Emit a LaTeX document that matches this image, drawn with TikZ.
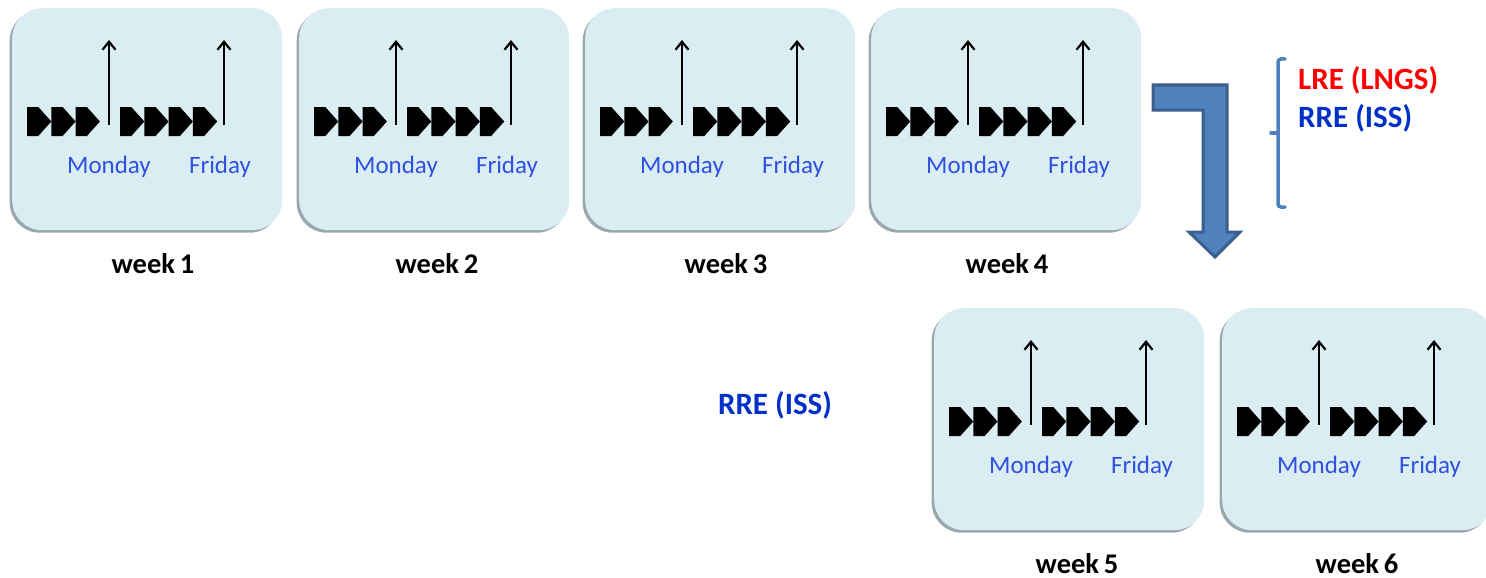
\documentclass[tikz,border=0pt]{standalone}
\usepackage{fontspec}
\setmainfont{Carlito}
\usetikzlibrary{arrows.meta,shadows}
\definecolor{boxfill}{HTML}{DAEDF3}
\definecolor{boxshadow}{HTML}{8E9FA6}
\definecolor{daytext}{HTML}{3050E0}
\definecolor{bigarrow}{HTML}{4F81BD}
\definecolor{bigarrowedge}{HTML}{3A5F8E}
\definecolor{lrered}{HTML}{FF0000}
\definecolor{rreblue}{HTML}{0030C8}
\begin{document}
\begin{tikzpicture}[x=1pt,y=-1pt,
  weekbox/.style={rounded corners=30pt, fill=boxfill, minimum width=270pt, minimum height=222pt,
    inner sep=0pt, anchor=north west,
    drop shadow={shadow xshift=-2.5pt, shadow yshift=-2.5pt, fill=boxshadow, opacity=0.9}},
  chev/.style={fill=black},
  dayarrow/.style={line width=2.2pt, -{Straight Barb[length=8pt,width=13pt,line width=2.2pt]}},
  daylabel/.style={text=daytext, font=\fontsize{25}{30}\selectfont, anchor=base, inner sep=0pt},
  weeklabel/.style={font=\bfseries\fontsize{28.5}{32}\selectfont, anchor=base, inner sep=0pt},
  eventlabel/.style={font=\bfseries\fontsize{31}{36}\selectfont, inner sep=0pt}]
\useasboundingbox (0,0) rectangle (1486,578);
\foreach \i/\X/\Y/\W in {1/12/8/153, 2/299/8/437, 3/585/8/726, 4/871/8/1007, 5/934/308/1077, 6/1222/308/1357}{
  \node[weekbox] (b\i) at (\X,\Y) {};
  \foreach \k in {0,1,2}
    \fill[chev] ({\X+15+24.3*\k},{\Y+99}) -- ++(11.3,0) -- ++(13,14.5) -- ++(-13,14.5) -- ++(-11.3,0) -- cycle;
  \foreach \k in {0,1,2,3}
    \fill[chev] ({\X+108+24.3*\k},{\Y+99}) -- ++(11.3,0) -- ++(13,14.5) -- ++(-13,14.5) -- ++(-11.3,0) -- cycle;
  \coordinate (m\i a) at ({\X+97},{\Y+117});
  \coordinate (m\i b) at ({\X+97},{\Y+32});
  \coordinate (f\i a) at ({\X+212},{\Y+117});
  \coordinate (f\i b) at ({\X+212},{\Y+32});
  \draw[dayarrow] (m\i a) -- (m\i b);
  \draw[dayarrow] (f\i a) -- (f\i b);
  \node[daylabel] (mon\i) at ({\X+97},{\Y+165}) {Monday};
  \node[daylabel] (fri\i) at ({\X+208},{\Y+165}) {Friday};
  \node[weeklabel] (w\i) at (\W,{\Y+265}) {week\,\i};
}
% big bent arrow
\filldraw[fill=bigarrow, draw=bigarrowedge, line width=3pt, line join=miter]
  (1153,85) -- (1227,85) -- (1227,232) -- (1240,232) -- (1215,257) -- (1189,232)
  -- (1203,232) -- (1203,110) -- (1153,110) -- cycle;
% brace
\draw[bigarrow, line width=3.5pt, line cap=round, rounded corners=3pt]
  (1285,59) -- (1278,59) -- (1278,207) -- (1285,207);
\draw[bigarrow, line width=3.5pt, line cap=round] (1278,133) -- (1271,133);
\node[eventlabel, text=lrered, anchor=west] (lre) at (1298,80) {LRE (LNGS)};
\node[eventlabel, text=rreblue, anchor=west] (rre1) at (1298,118) {RRE (ISS)};
\node[eventlabel, text=rreblue] (rre2) at (775,405) {RRE (ISS)};
\end{tikzpicture}
\end{document}
